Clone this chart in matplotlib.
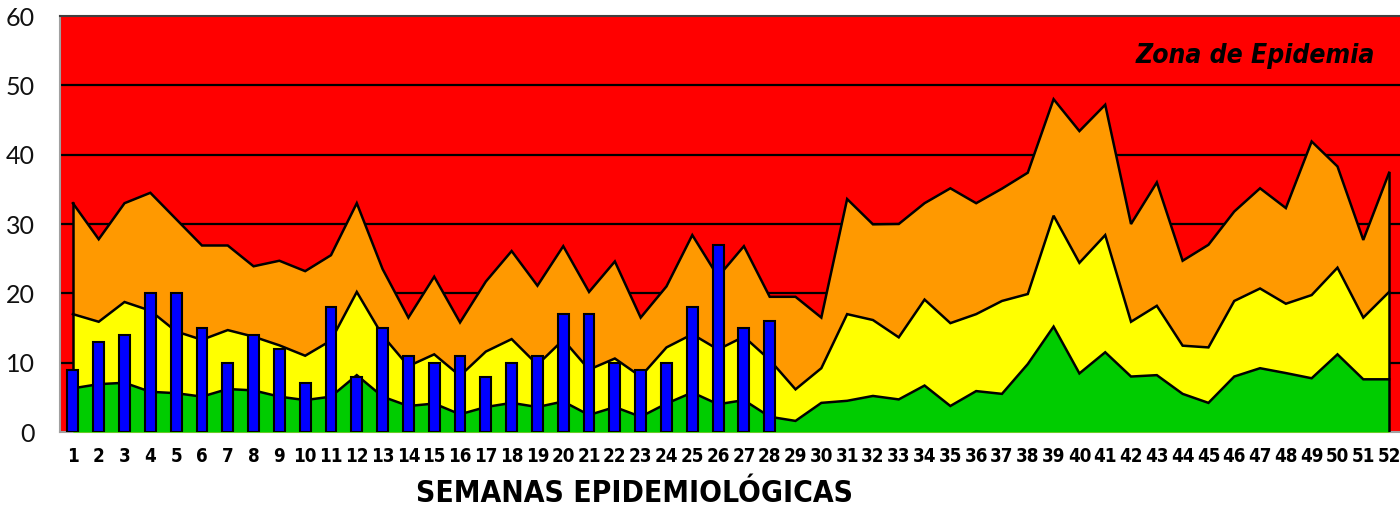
import matplotlib
matplotlib.use("Agg")
import matplotlib.pyplot as plt
from matplotlib import font_manager
import numpy as np

weeks = list(range(1, 53))
week_labels = [str(w) for w in weeks]

# Upper limits of each zone (cumulative values)
exito = [6.3, 6.9, 7.1, 5.8, 5.6, 5.1, 6.2, 6.0, 5.1, 4.6, 5.1, 8.2, 5.1, 3.75, 4.1, 2.55,
         3.6, 4.2, 3.6, 4.4, 2.45, 3.6, 2.2, 4.1, 5.7, 4.0, 4.6, 2.2, 1.6, 4.2, 4.5, 5.2,
         4.7, 6.7, 3.75, 5.9, 5.5, 9.8, 15.2, 8.45, 11.5, 8.0, 8.2, 5.5, 4.2, 8.0, 9.2, 8.5,
         7.75, 11.2, 7.6, 7.6]
seguridad = [17.0, 15.9, 18.75, 17.5, 14.5, 13.3, 14.7, 13.75, 12.5, 11.0, 13.2, 20.2, 13.9,
             9.5, 11.2, 8.1, 11.6, 13.4, 9.7, 13.3, 9.0, 10.6, 8.0, 12.2, 14.1, 11.9, 13.75,
             10.4, 6.15, 9.2, 17.0, 16.15, 13.65, 19.1, 15.7, 17.0, 18.9, 19.9, 31.2, 24.4,
             28.4, 15.9, 18.2, 12.45, 12.2, 18.9, 20.7, 18.5, 19.75, 23.7, 16.5, 20.2]
alerta = [33.0, 27.8, 33.0, 34.5, 30.7, 26.9, 26.9, 23.9, 24.7, 23.2, 25.5, 33.0, 23.5, 16.5,
          22.4, 15.8, 21.7, 26.1, 21.1, 26.8, 20.2, 24.6, 16.5, 21.0, 28.4, 22.4, 26.8, 19.5,
          19.5, 16.5, 33.6, 29.95, 30.0, 33.0, 35.15, 33.0, 35.1, 37.4, 48.0, 43.4, 47.2, 30.0,
          36.0, 24.7, 27.0, 31.8, 35.15, 32.3, 41.9, 38.3, 27.7, 37.4]

casos_weeks = list(range(1, 29))
casos = [9, 13, 14, 20, 20, 15, 10, 14, 12, 7, 18, 8, 15, 11, 10, 11, 8, 10, 11, 17, 17, 10,
         9, 10, 18, 27, 15, 16]

y_ticks = [0, 10, 20, 30, 40, 50, 60]

cond_bold = font_manager.FontProperties(family="DejaVu Sans", weight="bold", stretch="condensed", size=13.5)
cond_bold_big = font_manager.FontProperties(family="DejaVu Sans", weight="bold", stretch="condensed", size=21.5)
ytick_font = font_manager.FontProperties(family="Lato", weight="normal", size=18)

fig = plt.figure(figsize=(14, 5.08), dpi=100)
ax = fig.add_axes([60/1400, 76/508, 1342/1400, 416/508])
ax.set_facecolor("#FF0000")

x = np.array(weeks)
ax.set_xlim(0.5, 52.5)
ax.set_ylim(0, 60)

for yv in y_ticks[1:-1]:
    ax.axhline(yv, color="black", lw=1.6, zorder=1)

ax.fill_between(x, alerta, 0, color="#FF9900", zorder=2, lw=0)
ax.fill_between(x, seguridad, 0, color="#FFFF00", zorder=3, lw=0)
ax.fill_between(x, exito, 0, color="#00CC00", zorder=4, lw=0)
for s in (exito, seguridad, alerta):
    ax.plot(x, s, color="black", lw=1.8, zorder=5, solid_joinstyle="miter")
ax.plot([x[0], x[0]], [0, alerta[0]], color="black", lw=1.8, zorder=5)
ax.plot([x[-1], x[-1]], [0, alerta[-1]], color="black", lw=1.8, zorder=5)

ax.bar(casos_weeks, casos, width=0.42, color="#0000FF", edgecolor="black", lw=1.5, zorder=6)

ax.set_xticks(weeks)
ax.set_xticklabels(week_labels, fontproperties=cond_bold)
ax.set_yticks(y_ticks)
ax.set_yticklabels([str(v) for v in y_ticks], fontproperties=ytick_font, color="#111111")
ax.tick_params(axis="both", length=0)
ax.tick_params(axis="x", pad=11)
ax.tick_params(axis="y", pad=18)

for side in ("left", "bottom"):
    ax.spines[side].set_color("#A0A0A0")
    ax.spines[side].set_linewidth(1.5)
ax.spines["top"].set_color("#404040")
ax.spines["top"].set_linewidth(1.5)
ax.spines["right"].set_visible(False)

ax.text((1375 - 60) / 1342, 0.905, "Zona de Epidemia", transform=ax.transAxes, ha="right",
        va="center", fontsize=19, fontweight="bold", fontstyle="italic", color="black",
        zorder=7, fontfamily=["DejaVu Sans"], fontstretch="condensed")

fig.text(634/1400, 1 - 493/508, "SEMANAS EPIDEMIOLÓGICAS", ha="center", va="center",
         fontproperties=cond_bold_big)

fig.savefig("out.png", dpi=100)
